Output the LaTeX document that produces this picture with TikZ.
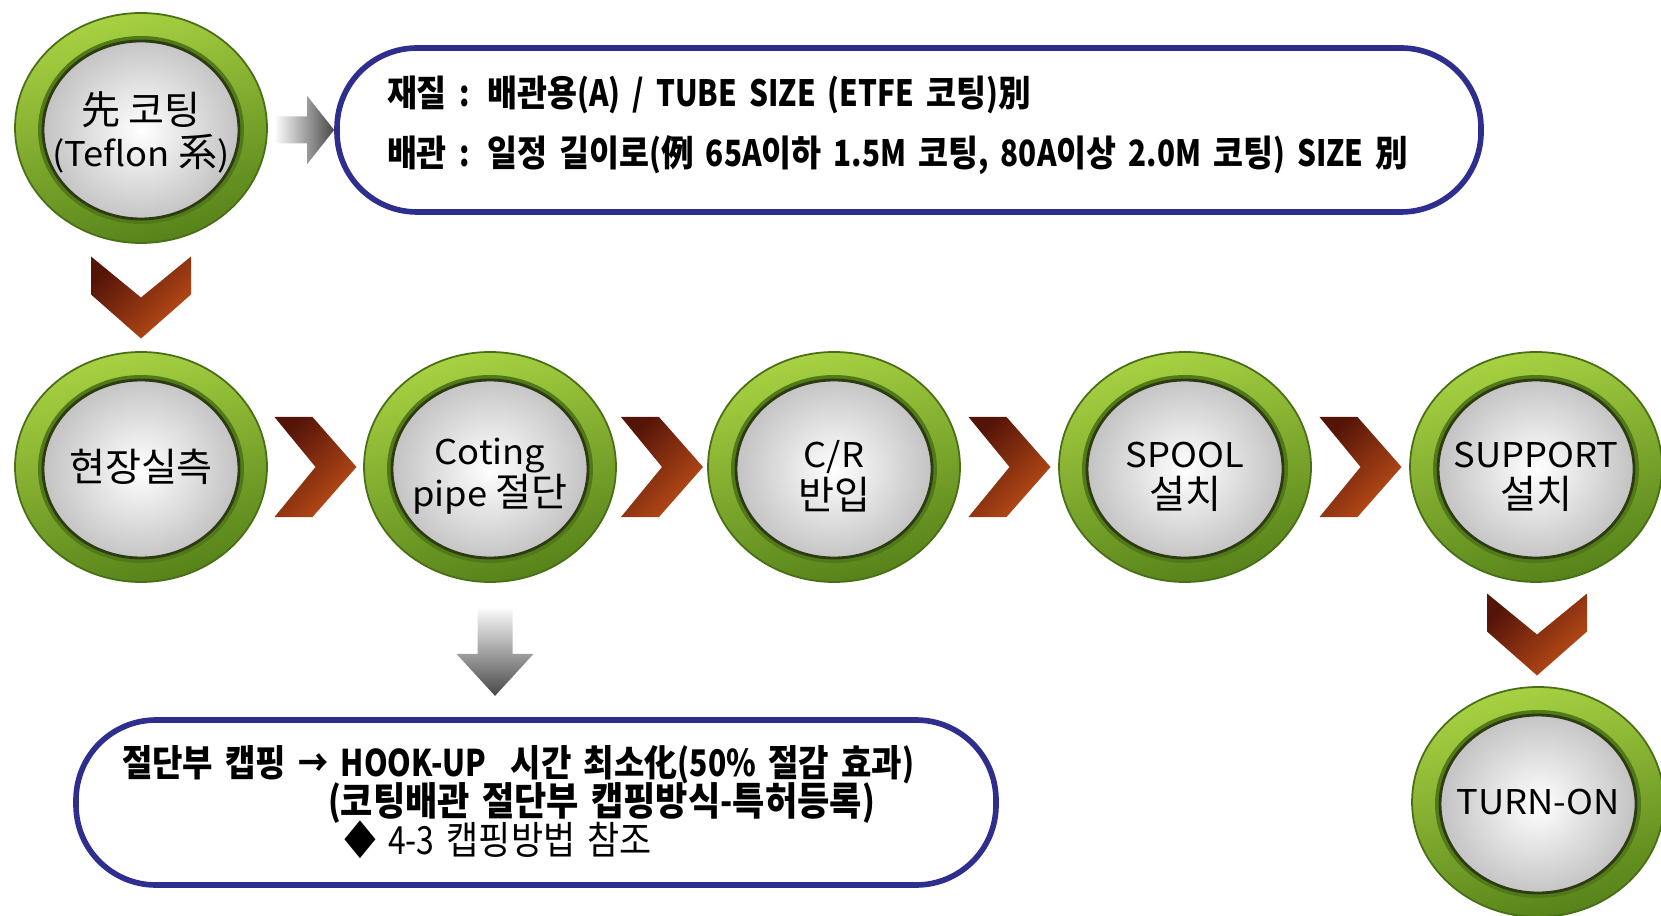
\documentclass[tikz,border=0pt]{standalone}
\usepackage{fontspec}
\setmainfont{Noto Sans CJK KR}
\newfontfamily\boxlat{Noto Sans CJK KR}[FakeStretch=0.82]
\newfontfamily\boxhan{Noto Sans CJK KR}[FakeStretch=0.90]
\newfontfamily\stagelat{Noto Sans CJK KR}[FakeStretch=1.065, Scale=0.915]
\newfontfamily\stagehan{Noto Sans CJK KR}[Scale=1.05]
\let\curlat\boxlat
\let\curhan\boxhan
\usetikzlibrary{shapes.geometric, calc}

% hangul / hanja runs and latin runs get their own cut
\XeTeXinterchartokenstate=1
\newXeTeXintercharclass\hanclass
\newcount\charno
\charno="AC00
\loop \XeTeXcharclass\charno=\hanclass \ifnum\charno<"D7A3 \advance\charno by 1 \repeat
\charno="4E00
\loop \XeTeXcharclass\charno=\hanclass \ifnum\charno<"9FFF \advance\charno by 1 \repeat
\XeTeXinterchartoks 0 \hanclass = {\curhan}
\XeTeXinterchartoks 4095 \hanclass = {\curhan}
\XeTeXinterchartoks \hanclass 0 = {\curlat}
\XeTeXinterchartoks 4095 0 = {\curlat}

\definecolor{ringlight}{RGB}{168,210,66}
\definecolor{ringdark}{RGB}{86,130,26}
\definecolor{ringedge}{RGB}{72,110,22}
\definecolor{ringshade}{RGB}{80,122,24}
\definecolor{diskgray}{RGB}{196,196,196}
\definecolor{diskedge}{RGB}{45,58,18}
\definecolor{chevdark}{RGB}{84,20,8}
\definecolor{chevlight}{RGB}{190,78,24}
\definecolor{boxblue}{RGB}{46,46,142}
\definecolor{arrowgray}{RGB}{72,72,72}

\begin{document}
\begin{tikzpicture}[
  every node/.style={align=center},
  stage/.style={ellipse, minimum width=2.52cm, minimum height=2.3cm, inner sep=0pt,
    draw=ringedge, line width=0.5pt, top color=ringlight, bottom color=ringdark, shading angle=15,
    font={\let\curlat\stagelat\let\curhan\stagehan\fontsize{10.6}{11.9}\selectfont\lineskiplimit=-20pt},
    path picture={
      \fill[ringshade] ([yshift=-0.02cm]path picture bounding box.center) ellipse (1.03cm and 0.94cm);
      \shade[inner color=white, outer color=diskgray] ([yshift=-0.02cm]path picture bounding box.center) ellipse (0.98cm and 0.89cm);
      \draw[diskedge, line width=0.8pt] ([yshift=-0.02cm]path picture bounding box.center) ellipse (0.98cm and 0.89cm);
    }},
  infobox/.style={rectangle, rounded corners=0.8cm, draw=boxblue, line width=1.6pt, fill=white,
    align=left, minimum height=1.64cm},
  pics/chev/.style={code={
    \shade[top color=chevdark, bottom color=chevlight, shading angle=45]
      (-0.41,0.5) -- (-0.03,0.5) -- (0.41,0) -- (-0.03,-0.5) -- (-0.41,-0.5) -- (0,0) -- cycle;}},
  pics/garrow/.style n args={5}{code={
    \shade[#5] (0,#3) -- (#1,#3) -- (#1,#4) -- ({#1+#2},0) -- (#1,-#4) -- (#1,-#3) -- (0,-#3) -- cycle;}},
]
\useasboundingbox (0,0) rectangle (16.61,9.15);

% ---------------------------------------------------------------- pre-coating
\node[stage] (pre) at (1.41,7.87) {\rule{0pt}{0.42cm}先 코팅\\(Teflon 系)};
\node[infobox, text width=10.44cm, minimum width=11.44cm,
      font={\bfseries\fontsize{10.3}{17}\selectfont}] (spec) at (9.09,7.85)
  {재질 : 배관용(A) / TUBE SIZE (ETFE 코팅)別\\
   배관 : 일정 길이로(例 65A이하 1.5M 코팅, 80A이상 2.0M 코팅) SIZE 別\rule[-0.17cm]{0pt}{0pt}};
\pic at ($(spec.west)+(-0.6,0)$) {garrow={0.33}{0.27}{0.135}{0.34}{left color=white, right color=arrowgray}};

% ---------------------------------------------------------------- main row
\node[stage] (field)   at (1.41,4.48)  {현장실측};
\node[stage] (cut)     at (4.90,4.48)  {\rule{0pt}{0.45cm}Coting\\pipe 절단};
\node[stage] (cr)      at (8.34,4.48)  {\rule{0pt}{0.45cm}C/R\\반입};
\node[stage] (spool)   at (11.85,4.48) {\rule{0pt}{0.45cm}SPOOL\\설치};
\node[stage] (support) at (15.36,4.48) {\rule{0pt}{0.45cm}SUPPORT\\설치};
\node[stage] (turnon)  at (15.38,1.13) {TURN-ON};

\foreach \a/\b in {field/cut, cut/cr, cr/spool, spool/support}{
  \path (\a.east) -- coordinate (m-\a) (\b.west);
  \pic at (m-\a) {chev};
}
\path (pre.south) -- coordinate (m-pre) (field.north);
\pic[rotate=-90] at (m-pre) {chev};
\path (support.south) -- coordinate (m-support) (turnon.north);
\pic[rotate=-90] at (m-support) {chev};

% ---------------------------------------------------------------- capping note
\node[infobox, text width=8.28cm, minimum width=9.2cm, minimum height=1.65cm,
      font={\fontsize{10.45}{11.1}\selectfont\lineskiplimit=-20pt}] (capping) at (5.36,1.125)
  {{\bfseries 절단부 캡핑 → HOOK-UP\ \ 시간 최소化(50\% 절감 효과)}\\
   \hspace*{2.06cm}{\bfseries\fontsize{11.1}{11.1}\selectfont (코팅배관 절단부 캡핑방식-특허등록)}\\
   \hspace*{2.22cm}{\fontsize{11.05}{11.1}\selectfont ◆ 4-3 캡핑방법 참조}};
\pic[rotate=-90] at ($(cut.south)+(0.05,-0.23)$) {garrow={0.48}{0.42}{0.175}{0.385}{top color=white, bottom color=arrowgray}};

\end{tikzpicture}
\end{document}
